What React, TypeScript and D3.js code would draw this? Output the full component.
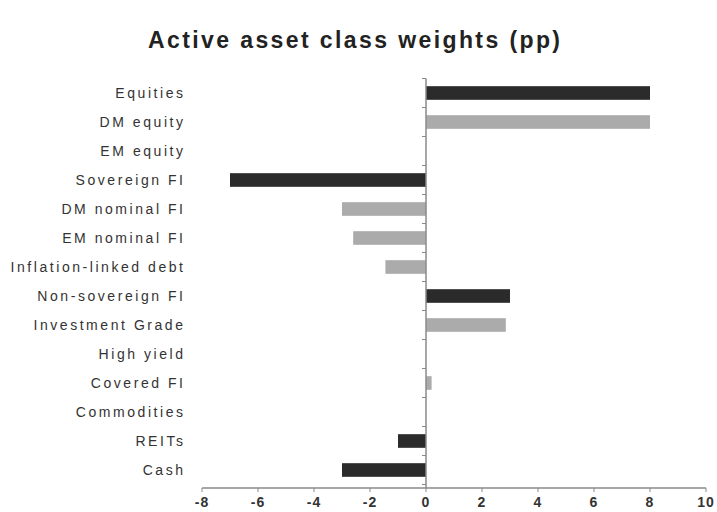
import React from "react";
import * as d3 from "d3";

const categories = [
  "Equities",
  "DM equity",
  "EM equity",
  "Sovereign FI",
  "DM nominal FI",
  "EM nominal FI",
  "Inflation-linked debt",
  "Non-sovereign FI",
  "Investment Grade",
  "High yield",
  "Covered FI",
  "Commodities",
  "REITs",
  "Cash",
];
const values = [8, 8, 0, -7, -3, -2.6, -1.45, 3, 2.85, 0, 0.2, 0, -1, -3];
const isAggregate = [true, false, false, true, false, false, false, true, false, false, false, true, true, true];
const xTicks = [-8, -6, -4, -2, 0, 2, 4, 6, 8, 10];
const title = "Active asset class weights (pp)";

const W = 717;
const H = 512;
const DARK = "#2b2b2b";
const LIGHT = "#ababab";
const AXIS = "#8a8a8a";

export default function App() {
  const x = d3.scaleLinear().domain([-8, 10]).range([202, 706]);
  const y = d3
    .scaleBand<string>()
    .domain(categories)
    .range([78.5, 484.5])
    .paddingInner(0.53)
    .paddingOuter(0.265);
  const step = y.step();
  const axisY = 488;
  const boundaries = d3.range(categories.length + 1).map((i) => y.range()[0] + i * step);
  const font = "'Liberation Sans', Arial, sans-serif";
  const labelLs = 2.55;
  const titleLs = 2.4;

  return (
    <svg
      width={W}
      height={H}
      style={{ position: "absolute", left: 0, top: 0, background: "#fff" }}
      fontFamily={font}
    >
      <text
        x={354 + titleLs / 2}
        y={48}
        textAnchor="middle"
        fontSize={23}
        fontWeight="bold"
        letterSpacing={titleLs}
        fill="#222"
      >
        {title}
      </text>

      {/* bars */}
      {categories.map((c, i) => {
        const v = values[i];
        const x0 = x(Math.min(0, v));
        const x1 = x(Math.max(0, v));
        return (
          <rect
            key={c}
            x={x0}
            y={y(c)!}
            width={Math.max(0, x1 - x0)}
            height={y.bandwidth()}
            fill={isAggregate[i] ? DARK : LIGHT}
          />
        );
      })}

      {/* vertical axis at zero */}
      <line x1={x(0)} x2={x(0)} y1={y.range()[0]} y2={axisY} stroke={AXIS} strokeWidth={1.5} />
      {boundaries.map((b, i) => (
        <line key={i} x1={x(0) - 4} x2={x(0)} y1={b} y2={b} stroke={AXIS} strokeWidth={1} />
      ))}

      {/* category labels */}
      {categories.map((c) => (
        <text
          key={c}
          x={183 + labelLs}
          y={y(c)! + y.bandwidth() / 2}
          dy="0.35em"
          textAnchor="end"
          fontSize={14}
          letterSpacing={labelLs}
          fill="#333"
        >
          {c}
        </text>
      ))}

      {/* x axis */}
      <line x1={x(-8)} x2={x(10)} y1={axisY} y2={axisY} stroke={AXIS} strokeWidth={1.5} />
      {xTicks.map((t) => (
        <g key={t}>
          <line x1={x(t)} x2={x(t)} y1={axisY} y2={axisY + 4} stroke={AXIS} strokeWidth={1} />
          <text
            x={x(t)}
            y={axisY + 19}
            textAnchor="middle"
            fontSize={14}
            fontWeight="bold"
            letterSpacing={1}
            fill="#333"
          >
            {t}
          </text>
        </g>
      ))}
    </svg>
  );
}
